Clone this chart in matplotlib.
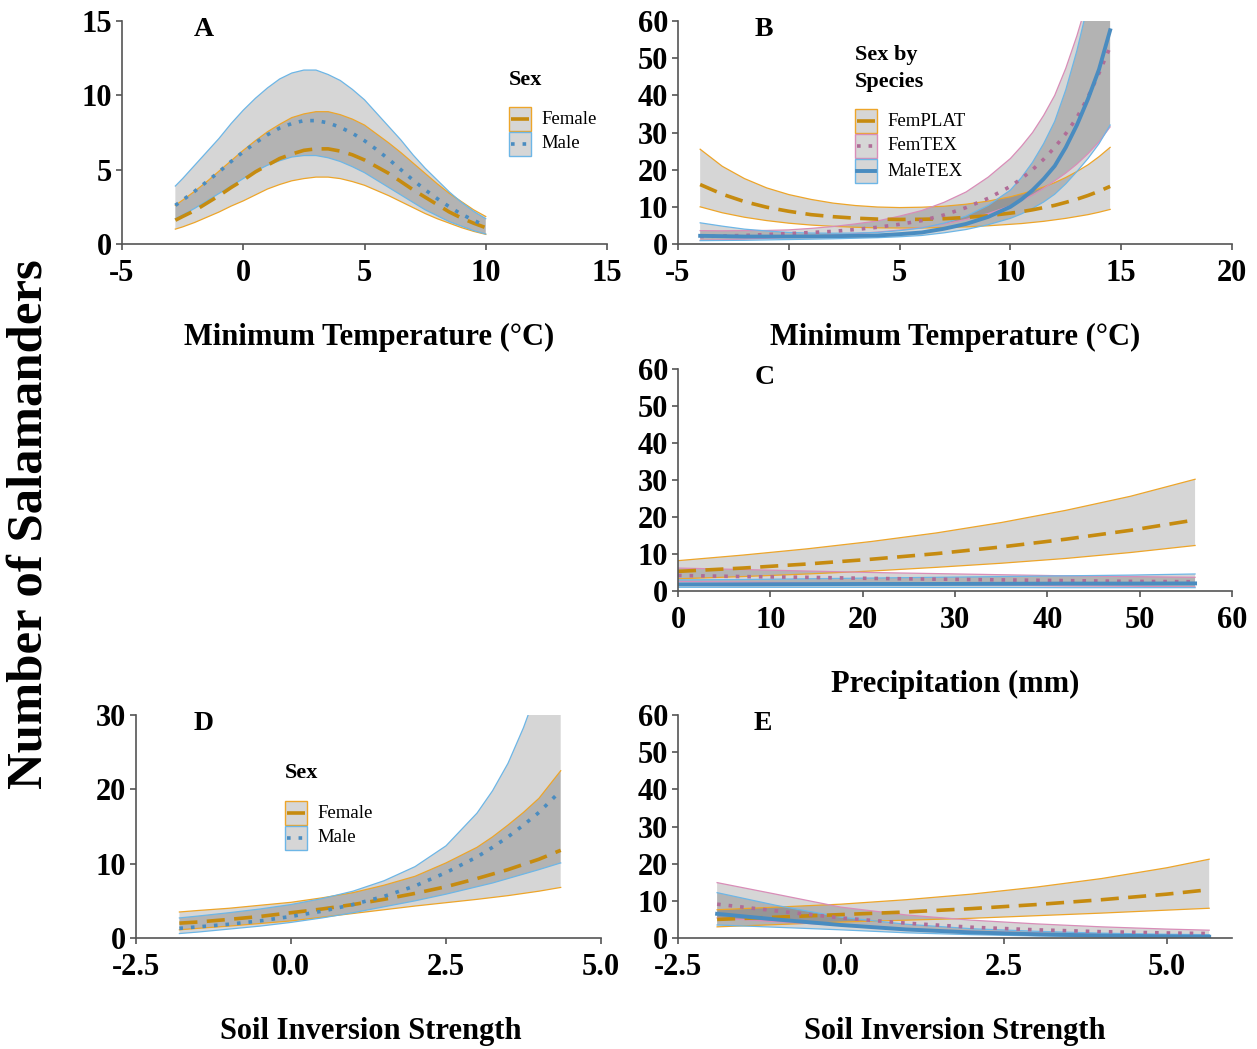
import matplotlib
matplotlib.use("Agg")
import matplotlib.pyplot as plt
from matplotlib.patches import Rectangle
from matplotlib.lines import Line2D

plt.rcParams['font.family'] = 'Liberation Serif'
plt.rcParams['font.weight'] = 'bold'
plt.rcParams['axes.unicode_minus'] = False

# ---- A: minimum temperature, by sex ----
a_x = [-2.8, -2.5, -2, -1.5, -1, -0.5, 0, 0.5, 1, 1.5, 2, 2.5, 3, 3.5, 4,
       4.5, 5, 5.5, 6, 6.5, 7, 7.5, 8, 8.5, 9, 9.5, 10]
a_fem = [1.6, 1.85, 2.25, 2.75, 3.25, 3.8, 4.3, 4.85, 5.3, 5.75, 6.05, 6.3, 6.4, 6.4,
         6.25, 6.0, 5.65, 5.2, 4.75, 4.2, 3.65, 3.15, 2.65, 2.15, 1.75, 1.4, 1.1]
a_fem_lo = [1.0, 1.15, 1.45, 1.8, 2.15, 2.55, 2.9, 3.3, 3.7, 4.0, 4.25, 4.4, 4.5, 4.5,
            4.4, 4.2, 3.95, 3.6, 3.25, 2.85, 2.45, 2.05, 1.7, 1.4, 1.1, 0.85, 0.65]
a_fem_hi = [2.6, 2.95, 3.55, 4.2, 4.9, 5.6, 6.3, 6.95, 7.55, 8.05, 8.5, 8.75, 8.9, 8.9,
            8.7, 8.4, 8.0, 7.4, 6.8, 6.15, 5.45, 4.75, 4.05, 3.4, 2.85, 2.3, 1.85]
a_male = [2.6, 2.95, 3.55, 4.2, 4.85, 5.55, 6.2, 6.8, 7.35, 7.8, 8.1, 8.3, 8.3, 8.15,
          7.85, 7.45, 6.95, 6.35, 5.7, 5.0, 4.3, 3.65, 3.05, 2.5, 2.0, 1.6, 1.2]
a_male_lo = [1.7, 1.95, 2.4, 2.9, 3.4, 3.9, 4.4, 4.9, 5.3, 5.6, 5.85, 5.95, 5.95, 5.8,
             5.55, 5.2, 4.8, 4.3, 3.8, 3.3, 2.8, 2.3, 1.9, 1.5, 1.2, 0.9, 0.67]
a_male_hi = [3.9, 4.4, 5.3, 6.2, 7.1, 8.1, 9.0, 9.8, 10.5, 11.1, 11.5, 11.7, 11.7, 11.4,
             11.0, 10.4, 9.7, 8.8, 7.9, 7.0, 6.0, 5.1, 4.3, 3.5, 2.8, 2.2, 1.7]

# ---- B: minimum temperature, sex by species ----
b_x = [-4, -3, -2, -1, 0, 1, 2, 3, 4, 5, 6, 7, 8, 9, 10, 10.5, 11, 11.5, 12,
       12.5, 13, 13.5, 14, 14.5]
b_plat = [16.0, 13.4, 11.4, 9.9, 8.8, 7.9, 7.35, 6.95, 6.7, 6.6, 6.65, 6.8, 7.15, 7.6,
          8.3, 8.7, 9.2, 9.8, 10.4, 11.2, 12.05, 13.05, 14.2, 15.5]
b_plat_lo = [10.0, 8.4, 7.2, 6.3, 5.6, 5.1, 4.75, 4.5, 4.35, 4.3, 4.3, 4.45, 4.6, 4.9,
             5.3, 5.5, 5.8, 6.1, 6.5, 6.9, 7.4, 7.9, 8.55, 9.3]
b_plat_hi = [25.5, 20.9, 17.6, 15.1, 13.3, 12.0, 11.0, 10.35, 9.95, 9.8, 9.9, 10.15, 10.7,
             11.55, 12.7, 13.5, 14.3, 15.35, 16.5, 17.9, 19.5, 21.3, 23.5, 26.0]
b_ftex = [2.0, 2.15, 2.3, 2.55, 2.8, 3.1, 3.4, 3.9, 4.5, 5.3, 6.3, 7.8, 9.8, 12.3,
          15.5, 17.6, 20.0, 22.8, 26.0, 29.7, 34.0, 39.5, 46.0, 53.0]
b_ftex_lo = [1.0, 1.15, 1.3, 1.55, 1.8, 2.1, 2.4, 2.8, 3.2, 3.75, 4.4, 5.4, 6.6, 8.2,
             10.3, 11.7, 13.2, 15.0, 17.0, 19.1, 21.5, 24.3, 27.5, 31.5]
b_ftex_hi = [3.6, 3.55, 3.6, 3.65, 3.8, 4.2, 4.7, 5.4, 6.2, 7.5, 9.0, 11.2, 14.0, 18.0,
             23.0, 26.3, 30.0, 34.6, 40.0, 47.3, 56.0, 66.0, 78.0, 92.0]
b_mtex = [2.2, 2.1, 2.0, 2.0, 2.0, 2.05, 2.1, 2.2, 2.3, 2.65, 3.1, 4.1, 5.4, 7.3,
          10.0, 12.0, 14.5, 17.5, 21.0, 26.0, 32.0, 39.0, 47.0, 57.5]
b_mtex_lo = [0.9, 0.95, 1.0, 1.1, 1.2, 1.3, 1.4, 1.55, 1.7, 1.95, 2.3, 3.0, 3.9, 5.2,
             6.9, 8.1, 9.6, 11.3, 13.4, 16.2, 19.5, 23.0, 27.0, 32.0]
b_mtex_hi = [5.7, 4.8, 4.0, 3.5, 3.1, 2.95, 2.9, 2.95, 3.1, 3.6, 4.3, 5.6, 7.5, 10.4,
             14.5, 17.9, 22.0, 27.0, 33.0, 41.5, 52.0, 64.5, 80.0, 100.0]

# ---- C: precipitation, sex by species ----
c_x = [0, 7, 14, 21, 28, 35, 42, 49, 56]
c_plat = [5.3, 6.2, 7.3, 8.6, 10.1, 11.9, 14.0, 16.4, 19.2]
c_plat_lo = [3.3, 3.9, 4.6, 5.4, 6.4, 7.5, 8.8, 10.4, 12.3]
c_plat_hi = [8.2, 9.7, 11.4, 13.4, 15.7, 18.5, 21.8, 25.6, 30.2]
c_ftex = [4.2, 3.9, 3.7, 3.4, 3.2, 3.0, 2.8, 2.6, 2.5]
c_ftex_lo = [2.6, 2.4, 2.2, 2.0, 1.8, 1.6, 1.4, 1.3, 1.1]
c_ftex_hi = [6.2, 5.8, 5.4, 5.0, 4.7, 4.4, 4.1, 3.9, 3.7]
c_mtex = [1.8, 1.8, 1.85, 1.9, 1.9, 1.95, 2.0, 2.0, 2.05]
c_mtex_lo = [1.0, 1.0, 1.0, 1.0, 0.95, 0.95, 0.9, 0.9, 0.9]
c_mtex_hi = [3.0, 3.1, 3.3, 3.5, 3.7, 3.9, 4.1, 4.3, 4.6]

# ---- D: soil inversion strength, by sex ----
d_x = [-1.8, -1.5, -1, -0.5, 0, 0.5, 1, 1.5, 2, 2.5, 3, 3.25, 3.5, 3.75, 4, 4.35]
d_fem = [2.0, 2.15, 2.5, 2.9, 3.4, 3.9, 4.5, 5.2, 6.0, 6.9, 8.0, 8.6, 9.2, 9.9, 10.6, 11.8]
d_fem_lo = [1.1, 1.3, 1.6, 1.95, 2.3, 2.8, 3.3, 3.8, 4.3, 4.75, 5.2, 5.45, 5.7, 6.0, 6.3, 6.8]
d_fem_hi = [3.5, 3.7, 4.0, 4.4, 4.8, 5.4, 6.1, 7.1, 8.3, 10.1, 12.2, 13.6, 15.2, 16.9,
            18.8, 22.5]
d_male = [1.3, 1.5, 1.85, 2.3, 2.9, 3.6, 4.5, 5.6, 7.0, 8.8, 10.9, 12.2, 13.6, 15.2,
          16.9, 19.8]
d_male_lo = [0.6, 0.8, 1.2, 1.6, 2.1, 2.7, 3.4, 4.2, 5.0, 5.9, 6.9, 7.4, 8.0, 8.6, 9.2, 10.1]
d_male_hi = [2.7, 2.95, 3.4, 3.9, 4.5, 5.3, 6.3, 7.7, 9.6, 12.4, 16.8, 19.8, 23.5, 28.3,
             34.0, 44.0]

# ---- E: soil inversion strength, sex by species ----
e_x = [-1.9, -1, 0, 1, 2, 3, 4, 5, 5.65]
e_plat = [5.0, 5.6, 6.3, 7.0, 7.9, 9.0, 10.3, 11.8, 13.0]
e_plat_lo = [3.0, 3.6, 4.3, 4.8, 5.3, 6.0, 6.7, 7.5, 8.0]
e_plat_hi = [7.6, 8.3, 9.1, 10.3, 11.8, 13.7, 16.0, 18.9, 21.2]
e_ftex = [9.1, 7.3, 5.4, 4.0, 2.9, 2.2, 1.7, 1.35, 1.2]
e_ftex_lo = [5.4, 4.4, 3.4, 2.5, 1.8, 1.3, 0.95, 0.7, 0.6]
e_ftex_hi = [14.9, 11.8, 8.3, 6.2, 4.8, 3.8, 3.0, 2.4, 2.1]
e_mtex = [6.5, 5.0, 3.5, 2.3, 1.5, 1.0, 0.65, 0.45, 0.35]
e_mtex_lo = [3.5, 2.9, 2.2, 1.4, 0.9, 0.55, 0.35, 0.2, 0.15]
e_mtex_hi = [12.2, 8.8, 5.6, 3.7, 2.5, 1.8, 1.3, 1.0, 0.9]

sex_labels = ['Female', 'Male']
species_labels = ['FemPLAT', 'FemTEX', 'MaleTEX']

# colours and line styles
GOLD, GOLD_EDGE = '#C68B10', '#EDA52A'
BLUE, BLUE_EDGE = '#4A8CC0', '#6DB6E6'
PINK, PINK_EDGE = '#B06C97', '#D98DB8'
RIBBON = (0, 0, 0, 0.16)
AXIS_GRAY = '#555555'
DASHED = dict(linestyle=(0, (5, 2.6)), linewidth=2.6)
DOTTED = dict(linestyle=(0, (1, 2.2)), linewidth=2.6)
SOLID = dict(linestyle='-', linewidth=2.8)

W, H = 1257, 1049
fig = plt.figure(figsize=(W / 100, H / 100), dpi=100)


def fx(px):
    return px / W


def fy(py):
    return 1 - py / H


def add_panel(x0, x1, y_top, y_bot):
    return fig.add_axes([fx(x0), fy(y_bot), (x1 - x0) / W, (y_bot - y_top) / H])


def style_axes(ax, xlim, xticks, ylim, yticks, xlabels=None):
    ax.set_xlim(xlim)
    ax.set_ylim(ylim)
    ax.set_xticks(xticks)
    ax.set_yticks(yticks)
    if xlabels is not None:
        ax.set_xticklabels(xlabels)
    ax.patch.set_alpha(0)
    for s in ['top', 'right']:
        ax.spines[s].set_visible(False)
    for s in ['left', 'bottom']:
        ax.spines[s].set_color(AXIS_GRAY)
        ax.spines[s].set_linewidth(1.2)
    ax.tick_params(direction='out', length=4, width=1.2, color=AXIS_GRAY,
                   labelsize=22, labelcolor='black')
    ax.tick_params(axis='x', pad=7)
    ax.tick_params(axis='y', pad=3)


def ribbon(ax, x, lo, hi, edge):
    ax.fill_between(x, lo, hi, facecolor=RIBBON, edgecolor='none')
    ax.plot(x, lo, color=edge, linewidth=0.9)
    ax.plot(x, hi, color=edge, linewidth=0.9)


def draw_legend(title_lines, box_x, first_row_y, entries):
    # title lines: (text, centre y in px); entries: (label, line colour, edge, style)
    for text, ty in title_lines:
        fig.text(fx(box_x), fy(ty), text, fontsize=16, fontweight='bold',
                 ha='left', va='center')
    for i, (label, color, edge, style) in enumerate(entries):
        yc = first_row_y + 25 * i
        fig.add_artist(Rectangle((fx(box_x), fy(yc + 12)), 22 / W, 24 / H,
                                 transform=fig.transFigure, facecolor=RIBBON,
                                 edgecolor=edge, linewidth=1.0))
        fig.add_artist(Line2D([fx(box_x + 2), fx(box_x + 20)], [fy(yc), fy(yc)],
                              transform=fig.transFigure, color=color, **style))
        fig.text(fx(box_x + 32), fy(yc), label, fontsize=13.5, fontweight='normal',
                 ha='left', va='center')


sex_entries = [(sex_labels[0], GOLD, GOLD_EDGE, DASHED),
               (sex_labels[1], BLUE, BLUE_EDGE, DOTTED)]
species_entries = [(species_labels[0], GOLD, GOLD_EDGE, DASHED),
                   (species_labels[1], PINK, PINK_EDGE, DOTTED),
                   (species_labels[2], BLUE, BLUE_EDGE, SOLID)]

# panel A
ax_a = add_panel(122, 607, 21, 244)
ribbon(ax_a, a_x, a_fem_lo, a_fem_hi, GOLD_EDGE)
ribbon(ax_a, a_x, a_male_lo, a_male_hi, BLUE_EDGE)
ax_a.plot(a_x, a_fem, color=GOLD, **DASHED)
ax_a.plot(a_x, a_male, color=BLUE, **DOTTED)
style_axes(ax_a, (-5, 15), [-5, 0, 5, 10, 15], (0, 15), [0, 5, 10, 15])
draw_legend([('Sex', 80)], 509, 119, sex_entries)

# panel B
ax_b = add_panel(678, 1232, 21, 244)
ribbon(ax_b, b_x, b_plat_lo, b_plat_hi, GOLD_EDGE)
ribbon(ax_b, b_x, b_ftex_lo, b_ftex_hi, PINK_EDGE)
ribbon(ax_b, b_x, b_mtex_lo, b_mtex_hi, BLUE_EDGE)
ax_b.plot(b_x, b_plat, color=GOLD, **DASHED)
ax_b.plot(b_x, b_ftex, color=PINK, **DOTTED)
ax_b.plot(b_x, b_mtex, color=BLUE, **SOLID)
style_axes(ax_b, (-5, 20), [-5, 0, 5, 10, 15, 20], (0, 60), range(0, 61, 10))
draw_legend([('Sex by', 55), ('Species', 82)], 855, 121, species_entries)

# panel C
ax_c = add_panel(678, 1232, 369, 591)
ribbon(ax_c, c_x, c_plat_lo, c_plat_hi, GOLD_EDGE)
ribbon(ax_c, c_x, c_ftex_lo, c_ftex_hi, PINK_EDGE)
ribbon(ax_c, c_x, c_mtex_lo, c_mtex_hi, BLUE_EDGE)
ax_c.plot(c_x, c_plat, color=GOLD, **DASHED)
ax_c.plot(c_x, c_ftex, color=PINK, **DOTTED)
ax_c.plot(c_x, c_mtex, color=BLUE, **SOLID)
style_axes(ax_c, (0, 60), range(0, 61, 10), (0, 60), range(0, 61, 10))

# panel D
ax_d = add_panel(136, 601, 715, 938)
ribbon(ax_d, d_x, d_fem_lo, d_fem_hi, GOLD_EDGE)
ribbon(ax_d, d_x, d_male_lo, d_male_hi, BLUE_EDGE)
ax_d.plot(d_x, d_fem, color=GOLD, **DASHED)
ax_d.plot(d_x, d_male, color=BLUE, **DOTTED)
style_axes(ax_d, (-2.5, 5.0), [-2.5, 0, 2.5, 5.0], (0, 30), [0, 10, 20, 30],
           xlabels=['-2.5', '0.0', '2.5', '5.0'])
draw_legend([('Sex', 773)], 285, 813, sex_entries)

# panel E
ax_e = add_panel(678, 1232, 715, 938)
ribbon(ax_e, e_x, e_plat_lo, e_plat_hi, GOLD_EDGE)
ribbon(ax_e, e_x, e_ftex_lo, e_ftex_hi, PINK_EDGE)
ribbon(ax_e, e_x, e_mtex_lo, e_mtex_hi, BLUE_EDGE)
ax_e.plot(e_x, e_plat, color=GOLD, **DASHED)
ax_e.plot(e_x, e_ftex, color=PINK, **DOTTED)
ax_e.plot(e_x, e_mtex, color=BLUE, **SOLID)
style_axes(ax_e, (-2.5, 6.0), [-2.5, 0, 2.5, 5.0], (0, 60), range(0, 61, 10),
           xlabels=['-2.5', '0.0', '2.5', '5.0'])

# panel letters
panel_letters = [('A', 204, 30), ('B', 764, 30), ('C', 765, 377),
                 ('D', 204, 723), ('E', 763, 723)]
for letter, px, py in panel_letters:
    fig.text(fx(px), fy(py), letter, fontsize=20, fontweight='bold',
             ha='center', va='center')

# axis titles
axis_titles = [('Minimum Temperature (°C)', 369, 337),
               ('Minimum Temperature (°C)', 955, 337),
               ('Precipitation (mm)', 955, 684),
               ('Soil Inversion Strength', 371, 1031),
               ('Soil Inversion Strength', 955, 1031)]
for label, px, py in axis_titles:
    fig.text(fx(px), fy(py), label, fontsize=22, fontweight='bold',
             ha='center', va='center')

fig.text(fx(30), fy(524), 'Number of Salamanders', fontsize=36.5,
         fontweight='bold', rotation=90, ha='center', va='center')

fig.savefig('out.png', dpi=100)
